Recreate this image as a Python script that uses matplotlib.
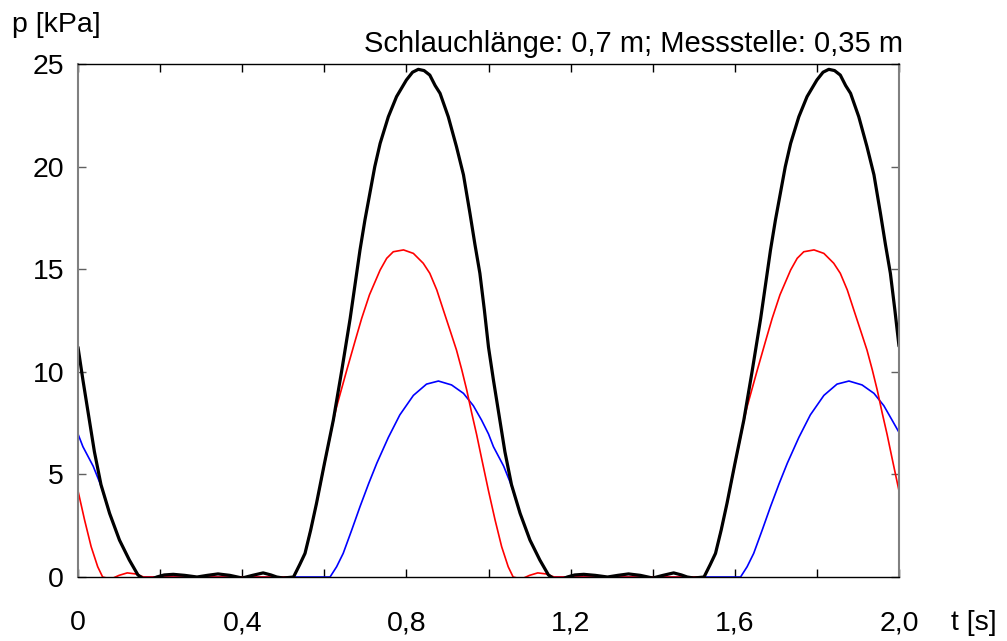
import matplotlib
matplotlib.use("Agg")
import matplotlib.pyplot as plt

# ---- data (t in s, p in kPa) ----
t_black = [0.000, 0.012, 0.028, 0.040, 0.056, 0.077, 0.101, 0.125, 0.146, 0.160,
           0.180, 0.192, 0.210, 0.232, 0.260, 0.290, 0.315, 0.341, 0.370, 0.400,
           0.425, 0.451, 0.470, 0.484, 0.500, 0.525, 0.540, 0.553, 0.567, 0.581,
           0.600, 0.622, 0.642, 0.663, 0.687, 0.699, 0.711, 0.723, 0.736, 0.756,
           0.776, 0.800, 0.815, 0.829, 0.843, 0.857, 0.870, 0.882, 0.902, 0.922,
           0.939, 0.955, 0.967, 0.979, 0.990,
           1.000, 1.012, 1.028, 1.040, 1.056, 1.077, 1.101, 1.125, 1.146, 1.160,
           1.180, 1.192, 1.210, 1.232, 1.260, 1.290, 1.315, 1.341, 1.370, 1.400,
           1.425, 1.451, 1.470, 1.484, 1.500, 1.525, 1.540, 1.553, 1.567, 1.581,
           1.600, 1.622, 1.642, 1.663, 1.687, 1.699, 1.711, 1.723, 1.736, 1.756,
           1.776, 1.800, 1.815, 1.829, 1.843, 1.857, 1.870, 1.882, 1.902, 1.922,
           1.939, 1.955, 1.967, 1.979, 1.990, 2.000]
p_black = [11.20, 9.60, 7.60, 6.10, 4.50, 3.10, 1.80, 0.83, 0.10, -0.10,
           -0.10, 0.00, 0.10, 0.13, 0.08, 0.00, 0.08, 0.15, 0.08, -0.05,
           0.08, 0.20, 0.10, 0.00, -0.05, 0.00, 0.60, 1.15, 2.30, 3.59,
           5.50, 7.65, 10.00, 12.60, 15.94, 17.40, 18.70, 20.00, 21.13, 22.43,
           23.41, 24.22, 24.60, 24.74, 24.68, 24.46, 23.95, 23.57, 22.43, 20.97,
           19.60, 17.70, 16.20, 14.80, 13.00,
           11.20, 9.60, 7.60, 6.10, 4.50, 3.10, 1.80, 0.83, 0.10, -0.10,
           -0.10, 0.00, 0.10, 0.13, 0.08, 0.00, 0.08, 0.15, 0.08, -0.05,
           0.08, 0.20, 0.10, 0.00, -0.05, 0.00, 0.60, 1.15, 2.30, 3.59,
           5.50, 7.65, 10.00, 12.60, 15.94, 17.40, 18.70, 20.00, 21.13, 22.43,
           23.41, 24.22, 24.60, 24.74, 24.68, 24.46, 23.95, 23.57, 22.43, 20.97,
           19.60, 17.70, 16.20, 14.80, 13.00, 11.25]

t_red = [0.000, 0.016, 0.032, 0.048, 0.060, 0.080, 0.100, 0.120, 0.140, 0.160,
         0.525, 0.553, 0.581, 0.600, 0.622, 0.630, 0.655, 0.675, 0.691, 0.710,
         0.736, 0.752, 0.768, 0.793, 0.817, 0.841, 0.857, 0.874, 0.890, 0.906,
         0.922, 0.935, 0.947, 0.959, 0.971, 0.983,
         1.000, 1.016, 1.032, 1.048, 1.060, 1.080, 1.100, 1.120, 1.140, 1.160,
         1.525, 1.553, 1.581, 1.600, 1.622, 1.630, 1.655, 1.675, 1.691, 1.710,
         1.736, 1.752, 1.768, 1.793, 1.817, 1.841, 1.857, 1.874, 1.890, 1.906,
         1.922, 1.935, 1.947, 1.959, 1.971, 1.983, 2.000]
p_red = [4.20, 2.78, 1.48, 0.50, 0.00, -0.10, 0.08, 0.20, 0.15, 0.00,
         0.00, 1.15, 3.55, 5.45, 7.60, 8.30, 10.10, 11.50, 12.60, 13.75,
         14.96, 15.53, 15.85, 15.94, 15.77, 15.29, 14.80, 13.99, 13.01, 12.04,
         11.06, 10.09, 9.11, 8.00, 6.95, 5.80,
         4.20, 2.78, 1.48, 0.50, 0.00, -0.10, 0.08, 0.20, 0.15, 0.00,
         0.00, 1.15, 3.55, 5.45, 7.60, 8.30, 10.10, 11.50, 12.60, 13.75,
         14.96, 15.53, 15.85, 15.94, 15.77, 15.29, 14.80, 13.99, 13.01, 12.04,
         11.06, 10.09, 9.11, 8.00, 6.95, 5.80, 4.20]

t_blue = [0.000, 0.012, 0.037, 0.056, 0.077, 0.101, 0.125, 0.146, 0.155, 0.614,
          0.630, 0.646, 0.667, 0.687, 0.708, 0.728, 0.756, 0.784, 0.817, 0.849,
          0.878, 0.910, 0.939, 0.963, 0.983,
          1.000, 1.012, 1.037, 1.056, 1.077, 1.101, 1.125, 1.146, 1.155, 1.614,
          1.630, 1.646, 1.667, 1.687, 1.708, 1.728, 1.756, 1.784, 1.817, 1.849,
          1.878, 1.910, 1.939, 1.963, 1.983, 2.000]
p_blue = [6.97, 6.35, 5.40, 4.45, 3.10, 1.80, 0.83, 0.10, 0.00, 0.00,
          0.50, 1.15, 2.30, 3.43, 4.55, 5.55, 6.80, 7.90, 8.85, 9.40,
          9.55, 9.36, 8.95, 8.35, 7.65,
          6.97, 6.35, 5.40, 4.45, 3.10, 1.80, 0.83, 0.10, 0.00, 0.00,
          0.50, 1.15, 2.30, 3.43, 4.55, 5.55, 6.80, 7.90, 8.85, 9.40,
          9.55, 9.36, 8.95, 8.35, 7.65, 7.05]

x_ticks = [0.0, 0.2, 0.4, 0.6, 0.8, 1.0, 1.2, 1.4, 1.6, 1.8, 2.0]
x_labels = ["0", "", "0,4", "", "0,8", "", "1,2", "", "1,6", "", "2,0"]
y_ticks = [0, 5, 10, 15, 20, 25]
y_labels = ["0", "5", "10", "15", "20", "25"]

title = "Schlauchlänge: 0,7 m; Messstelle: 0,35 m"
ylab = "p [kPa]"
xlab = "t [s]"

plt.rcParams["font.family"] = ["Liberation Sans", "DejaVu Sans"]
plt.rcParams["lines.solid_joinstyle"] = "round"
plt.rcParams["lines.solid_capstyle"] = "round"

fig = plt.figure(figsize=(10.07, 6.41), dpi=100)
ax = fig.add_axes([78 / 1007, 1 - 577 / 641, (899 - 78) / 1007, (577 - 64) / 641])

ax.plot(t_blue, p_blue, color="#0000ff", lw=1.2)
ax.plot(t_red, p_red, color="#ff0000", lw=1.2)
ax.plot(t_black, p_black, color="#000000", lw=2.3)

ax.set_xlim(0, 2.0)
ax.set_ylim(0, 25)
ax.set_xticks(x_ticks)
ax.set_xticklabels(x_labels)
ax.set_yticks(y_ticks)
ax.set_yticklabels(y_labels)

ax.tick_params(axis="both", direction="in", length=6, width=1, labelsize=20.5)
ax.tick_params(axis="x", top=True, pad=24)
ax.tick_params(axis="y", right=True, pad=10, color="#606060")

for s in ["left", "right"]:
    ax.spines[s].set_color("#808080")
    ax.spines[s].set_linewidth(1.5)
for s in ["top", "bottom"]:
    ax.spines[s].set_color("#000000")
    ax.spines[s].set_linewidth(1.0)

fig.text(12 / 1007, 1 - 32 / 641, ylab, fontsize=20.5, ha="left", va="baseline")
fig.text(903 / 1007, 1 - 52 / 641, title, fontsize=21, ha="right", va="baseline")
fig.text(997 / 1007, 1 - 630 / 641, xlab, fontsize=20.5, ha="right", va="baseline")

fig.savefig("out.png", dpi=100)
